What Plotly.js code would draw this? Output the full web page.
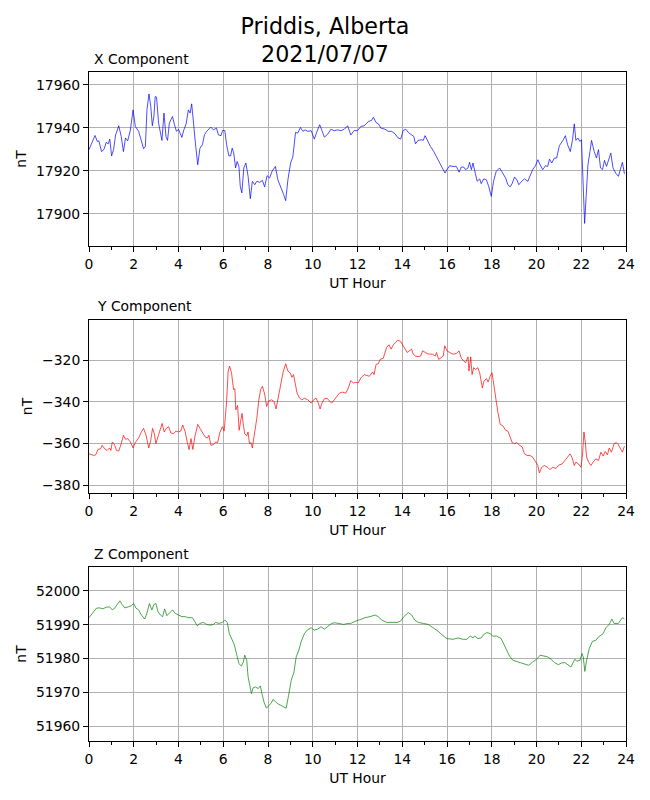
<!DOCTYPE html>
<html>
<head>
<meta charset="utf-8">
<script src="https://cdn.plot.ly/plotly-3.0.1.min.js"></script>
<style>
  body { margin: 0; background: #fff; }
  #plot { width: 650px; height: 800px; }
</style>
</head>
<body>
<div id="plot"></div>
<script>
// magnetometer readings, Priddis 2021/07/07
// X component (nT)
var xHours = [0.00,0.27,0.37,0.44,0.56,0.67,0.77,0.86,0.93,1.01,1.10,1.19,1.33,1.44,1.54,1.63,1.73,1.85,1.97,2.07,
  2.22,2.34,2.44,2.52,2.59,2.68,2.76,2.83,2.90,2.96,3.02,3.11,3.19,3.26,3.35,3.44,3.51,3.59,3.66,3.73,
  3.82,3.91,4.00,4.07,4.15,4.24,4.34,4.44,4.52,4.59,4.67,4.77,4.86,4.96,5.07,5.16,5.26,5.33,5.44,5.56,
  5.70,5.78,5.90,5.97,6.07,6.15,6.25,6.33,6.40,6.47,6.55,6.62,6.70,6.76,6.83,6.92,7.01,7.11,7.21,7.30,
  7.41,7.50,7.63,7.75,7.85,7.96,8.07,8.18,8.33,8.44,8.56,8.70,8.79,8.89,9.01,9.11,9.23,9.33,9.45,9.56,
  9.66,9.78,9.93,10.07,10.19,10.31,10.40,10.52,10.67,10.81,10.96,11.11,11.26,11.41,11.56,11.70,11.85,12.00,12.15,12.30,
  12.49,12.63,12.71,12.83,12.93,13.05,13.23,13.38,13.53,13.67,13.82,13.93,14.04,14.16,14.27,14.42,14.52,14.59,14.71,14.86,
  14.94,15.02,15.13,15.26,15.41,15.53,15.68,15.80,15.91,16.00,16.12,16.27,16.42,16.54,16.64,16.75,16.83,16.94,17.01,17.09,
  17.16,17.27,17.35,17.46,17.53,17.64,17.76,17.86,17.98,18.08,18.20,18.35,18.50,18.62,18.72,18.82,18.91,19.02,19.12,19.21,
  19.34,19.46,19.61,19.71,19.83,19.95,20.06,20.16,20.28,20.40,20.50,20.58,20.68,20.80,20.90,21.02,21.14,21.20,21.29,21.39,
  21.51,21.61,21.69,21.76,21.85,21.94,22.01,22.09,22.15,22.22,22.30,22.39,22.46,22.58,22.68,22.77,22.86,22.95,23.04,23.13,
  23.22,23.32,23.42,23.54,23.66,23.77,23.84,23.93];
var xNT = [17929.9,17936.5,17933.7,17934,17929,17930,17933.3,17932.6,17934.8,17927,17930,17936.8,17941,17936,17929,17935.3,17934,17939,17948.4,17940.7,
  17938.4,17934.5,17930.3,17931.4,17948.4,17955.8,17950,17941,17945.3,17954.6,17954.3,17942.2,17938.4,17934.2,17946.9,17936,17934.2,17942.2,17943.8,17945.3,
  17941.5,17938.4,17939.4,17937.6,17935.6,17939.1,17941.9,17948.4,17946.9,17951.2,17940.7,17931.4,17922.9,17930.6,17932.2,17936.8,17938.4,17939.4,17940.4,17939.1,
  17939.9,17936.8,17936.4,17938.8,17938.8,17932.2,17927,17927,17930.6,17928.3,17921.4,17924.4,17922.1,17912.9,17909.8,17921.4,17923.7,17917.5,17907.1,17915.2,
  17913.6,17915.2,17914.7,17915.6,17912.6,17917.8,17916.7,17919.8,17922.1,17915.9,17912.9,17909,17906.2,17915.9,17923.7,17926.5,17937.9,17937.6,17940.2,17938.4,
  17939.1,17938.4,17938.7,17934.8,17938.4,17941.5,17939.1,17935.7,17937.1,17939.4,17938.7,17939.1,17938.7,17939.4,17941,17936.7,17938.8,17938.7,17940.7,17941,
  17943,17943.5,17945,17942.5,17941.9,17939.9,17939.4,17938.4,17938.4,17937.3,17935.3,17934.8,17938.8,17939.4,17937.9,17936.8,17936,17932.6,17934.2,17934.5,
  17934.2,17936.4,17933.7,17931.4,17929,17926.7,17924,17921.4,17919,17920.6,17922.4,17922.1,17922.1,17919.4,17921.8,17921.8,17920.6,17921.4,17924,17920.6,
  17923.7,17918.7,17915.2,17916.3,17914.1,17916.3,17915.9,17912.9,17908.2,17915.2,17919.8,17921.4,17919,17916.7,17913.6,17912.6,17914.1,17917.2,17915.9,17913.6,
  17915.2,17916.3,17915.2,17917.8,17920.6,17922.4,17925.2,17922.9,17920.6,17922.4,17922.1,17925.5,17923.7,17926,17926,17931.7,17933.3,17934.5,17936.4,17932.2,
  17929,17934.5,17941.9,17934.2,17935.3,17933.7,17934.5,17912.9,17895.6,17908.2,17922.9,17929,17934.2,17929,17926,17929.9,17921.4,17920.6,17924.9,17922.1,
  17924.9,17928.3,17921.4,17919,17917.5,17921.8,17924,17918.7];

// Y component (nT)
var yHours = [0.00,0.22,0.30,0.40,0.52,0.59,0.70,0.81,0.92,0.98,1.04,1.14,1.23,1.33,1.44,1.54,1.63,1.73,1.85,1.97,
  2.07,2.22,2.34,2.44,2.55,2.67,2.76,2.84,2.92,2.99,3.08,3.19,3.27,3.36,3.45,3.56,3.66,3.78,3.88,4.00,
  4.10,4.19,4.30,4.39,4.47,4.56,4.64,4.74,4.86,4.96,5.07,5.19,5.29,5.36,5.45,5.56,5.66,5.75,5.85,5.96,
  6.04,6.15,6.22,6.28,6.37,6.46,6.52,6.56,6.64,6.71,6.77,6.84,6.90,6.96,7.05,7.11,7.17,7.24,7.30,7.41,
  7.50,7.59,7.67,7.75,7.85,7.94,8.03,8.15,8.27,8.36,8.44,8.55,8.67,8.79,8.89,8.99,9.07,9.14,9.21,9.30,
  9.41,9.51,9.63,9.78,9.93,10.04,10.15,10.22,10.33,10.41,10.52,10.64,10.74,10.84,10.96,11.08,11.19,11.33,11.48,11.59,
  11.70,11.82,11.93,12.03,12.15,12.30,
  12.38,12.53,12.68,12.74,12.83,12.93,13.01,13.15,13.30,13.41,13.50,13.60,13.70,13.79,13.93,14.01,14.12,14.22,14.31,14.42,
  14.49,14.59,14.71,14.82,14.91,15.01,15.11,15.23,15.35,15.47,15.53,15.63,15.75,15.83,15.90,16.00,16.12,16.27,16.42,16.54,
  16.64,16.75,16.83,16.94,16.98,17.06,17.12,17.19,17.28,17.38,17.46,17.58,17.65,17.76,17.84,17.93,18.01,18.08,18.17,18.27,
  18.38,18.50,18.62,18.72,18.82,18.91,19.02,19.12,19.24,19.36,19.46,19.58,19.71,19.83,19.95,20.06,20.13,20.23,20.35,20.50,
  20.60,20.72,20.87,20.99,21.14,21.29,21.39,21.50,21.58,21.69,21.76,21.88,21.99,22.06,22.12,22.18,22.24,22.33,22.43,22.53,
  22.65,22.77,22.88,22.98,23.07,23.17,23.25,23.35,23.47,23.57,23.66,23.77,23.84,23.93];
var yNT = [-365,-365.8,-365.5,-362.9,-362.6,-360.9,-362.6,-363.4,-362.2,-363.4,-359.3,-360.6,-363.4,-363.7,-360.1,-356.1,-358,-357.7,-359.3,-362.2,
  -359.6,-357.4,-354.5,-352.8,-356.1,-362.2,-358.5,-352.8,-355.3,-360.1,-356.9,-352.8,-350.4,-354.5,-352.8,-352,-355,-355.3,-354.1,-354.5,
  -354.1,-351.2,-354.5,-359.3,-363,-357.7,-362.9,-356.4,-350.9,-352.8,-354.5,-356.9,-357.4,-356.1,-360.9,-360.6,-359.3,-359.6,-354.8,-352,
  -354.1,-339.9,-325.3,-322.9,-326.1,-334.2,-333.8,-343.9,-341.8,-353.7,-349.9,-345.6,-351.2,-355.3,-356.4,-354.5,-360.1,-359.6,-362.2,-355.3,
  -348,-339.1,-334.2,-332.6,-336.3,-342.3,-339.6,-339.1,-339.9,-343.5,-339.1,-332.6,-326.1,-321.8,-325.3,-326.1,-328.3,-327,-331,-335.9,
  -338.3,-339.1,-338.3,-339.1,-340.7,-339.1,-338.3,-339.9,-343.5,-340.7,-338.6,-338.3,-339.6,-340.7,-339.1,-337.5,-335.9,-335.4,-335.9,-333.4,
  -329.9,-331,-330.7,-331,-328.6,-327,
  -327.3,-327.8,-325.7,-327,-322.1,-321.8,-319.7,-319.2,-314,-312.7,-314.8,-312.7,-311.6,-310.5,-311.1,-312.7,-314.8,-316.4,-315.6,-314.8,
  -317.2,-318.1,-318.4,-318.1,-315.6,-316.4,-316.9,-317.2,-317.2,-318.1,-316.4,-319.7,-318.9,-318.1,-313.2,-315.6,-316.4,-317.2,-316.9,-315.6,
  -319.2,-320.2,-321.3,-318.5,-325.3,-318.5,-327,-323.7,-324.5,-323.7,-326.1,-333.4,-330.2,-328.9,-330.5,-327.8,-326.1,-331,-338.3,-344.8,
  -350.9,-351.6,-353.7,-354.1,-356.9,-359.6,-360.1,-359.6,-360.9,-361.7,-365,-365.8,-365.8,-366.6,-368.7,-370.6,-374.2,-371.5,-370.6,-371.5,
  -372.6,-371.5,-372,-370.4,-369.9,-368.2,-366.6,-365,-366.6,-370.6,-369,-369.9,-371.5,-365,-354.5,-359.3,-366.6,-369,-370.6,-369,
  -367.4,-368.2,-364.2,-366.1,-363.9,-365.5,-362.2,-364.2,-360.1,-359.6,-360.6,-362.9,-364.2,-361.3];

// Z component (nT)
var zHours = [0.00,0.22,0.33,0.47,0.62,0.77,0.92,1.04,1.16,1.26,1.38,1.48,1.60,1.75,1.88,2.00,2.10,2.22,2.34,2.49,
  2.59,2.70,2.81,2.90,2.99,3.08,3.19,3.29,3.38,3.48,3.59,3.73,3.85,4.00,4.15,4.30,4.44,4.62,4.74,4.84,
  4.96,5.11,5.26,5.41,5.56,5.66,5.81,5.96,6.07,6.18,6.27,6.37,6.49,6.59,6.70,6.81,6.90,6.96,7.05,7.11,
  7.19,7.26,7.33,7.44,7.56,7.66,7.73,7.82,7.93,8.03,8.15,8.22,8.33,8.44,8.59,8.71,8.81,8.92,9.04,9.16,
  9.26,9.38,9.48,9.63,9.78,9.93,10.07,10.22,10.37,10.52,10.70,10.84,10.99,11.19,11.38,11.56,11.70,11.85,12.03,12.27,
  12.34,12.56,12.78,12.93,13.08,13.30,13.53,13.78,13.93,14.07,14.27,14.42,14.56,14.71,14.94,15.16,15.38,15.60,15.80,16.00,
  16.27,16.49,16.72,16.89,17.04,17.16,17.24,17.38,17.53,17.64,17.78,17.93,18.05,18.20,18.42,18.62,18.79,18.94,19.17,19.39,
  19.65,19.83,20.01,20.16,20.35,20.50,20.65,20.80,20.98,21.12,21.27,21.39,21.54,21.65,21.72,21.80,21.95,22.03,22.09,22.16,
  22.24,22.36,22.50,22.65,22.77,22.88,22.98,23.10,23.25,23.37,23.47,23.66,23.84,23.93];
var zNT = [51992.1,51993.9,51994.9,51995,51994.7,51995.2,51995.3,51994.4,51995,51996,51997.1,51996,51995,51995.3,51995.6,51996.3,51994.9,51994.4,51992.9,51991.7,
  51993.4,51996.3,51994.4,51996,51996.3,51993.9,51992.9,51992.4,51994.7,51992.7,51993.4,51994.4,51993.4,51992.9,51992.4,51992.4,51992.1,51992.1,51990.7,51989.7,
  51990.4,51990.7,51990.1,51989.9,51990.1,51990.7,51990.4,51990.7,51991.4,51990.7,51987.4,51985.7,51984.2,51981.5,51978.5,51977.8,51979,51981,51979.5,51974.6,
  51971.6,51969.6,51971.3,51971.6,51971.1,51971.9,51969.6,51967.1,51965.3,51966.1,51966.9,51967.9,51967.3,51966.6,51966.1,51965.6,51965.3,51969.1,51973.6,51976,
  51980.5,51982.5,51985,51987.4,51988.6,51989.1,51988.4,51988.7,51989.4,51988.7,51989.7,51990.4,51990.6,51990.4,51990.1,51990.4,51990.4,51990.9,51991.4,51992.1,
  51992.1,51992.4,51992.9,51992.4,51991.4,51990.7,51990.7,51990.7,51991.1,51992.4,51993.6,51992.9,51991.4,51990.7,51990.4,51990.1,51989.1,51988.1,51986.9,51985.9,
  51985.7,51986.1,51985.7,51985.7,51986.7,51986.1,51986.7,51985.9,51986.1,51987.1,51987.7,51987.4,51986.6,51986.7,51985.9,51983,51980.8,51979.5,51979,51978.5,
  51978,51979,51979.8,51981,51980.8,51980.5,51979.8,51978.8,51978.2,51978.7,51978.8,51978.2,51977.5,51979,51979.8,51979.2,51979.5,51981.5,51980.5,51976.2,
  51979.5,51983,51985.1,51985.4,51986.4,51986.9,51987.4,51989.1,51990.1,51991.7,51990.4,51990.4,51992.1,51991.7];

var hourTicks = [0,2,4,6,8,10,12,14,16,18,20,22,24];

var FONT = 'DejaVu Sans, sans-serif';
var TICKSZ = 13.9;

function xAxis(anchor) {
  return {
    anchor: anchor, domain: [0, 1], range: [0, 24],
    tickvals: hourTicks, ticktext: hourTicks.map(String),
    ticks: 'outside', ticklen: 5, tickcolor: '#000', tickwidth: 1,
    showline: true, mirror: true, linecolor: '#000', linewidth: 1,
    showgrid: true, gridcolor: '#b0b0b0', gridwidth: 1,
    zeroline: false, fixedrange: true,
    minor: { dtick: 1, tick0: 0, ticks: 'outside', ticklen: 3, tickcolor: '#000', showgrid: false },
    tickfont: { family: FONT, size: TICKSZ, color: '#000' },
    title: { text: 'UT Hour', font: { family: FONT, size: TICKSZ, color: '#000' }, standoff: 7 }
  };
}

function yAxis(anchor, domain, range, dtick) {
  return {
    anchor: anchor, domain: domain, range: range, dtick: dtick, tickformat: 'd',
    ticks: 'outside', ticklen: 5, tickcolor: '#000', tickwidth: 1,
    showline: true, mirror: true, linecolor: '#000', linewidth: 1,
    showgrid: true, gridcolor: '#b0b0b0', gridwidth: 1,
    zeroline: false, fixedrange: true,
    tickfont: { family: FONT, size: TICKSZ, color: '#000' },
    title: { text: 'nT', font: { family: FONT, size: TICKSZ, color: '#000' }, standoff: 6 }
  };
}

var traces = [
  { x: xHours, y: xNT, xaxis: 'x', yaxis: 'y', type: 'scatter', mode: 'lines',
    line: { color: '#0000ff', width: 0.7 }, hoverinfo: 'skip' },
  { x: yHours, y: yNT, xaxis: 'x2', yaxis: 'y2', type: 'scatter', mode: 'lines',
    line: { color: '#ff0000', width: 0.7 }, hoverinfo: 'skip' },
  { x: zHours, y: zNT, xaxis: 'x3', yaxis: 'y3', type: 'scatter', mode: 'lines',
    line: { color: '#008000', width: 0.7 }, hoverinfo: 'skip' }
];

function compTitle(txt, x, y) {
  return { text: txt, xref: 'paper', yref: 'paper', x: x, y: y,
    xanchor: 'left', yanchor: 'middle', showarrow: false,
    font: { family: FONT, size: TICKSZ, color: '#000' } };
}

var layout = {
  width: 650, height: 800,
  margin: { l: 89, r: 24, t: 72, b: 59 },
  paper_bgcolor: '#fff', plot_bgcolor: '#fff',
  showlegend: false,
  font: { family: FONT, color: '#000' },
  title: { text: 'Priddis, Alberta<br>2021/07/07', x: 0.5, xanchor: 'center',
    y: 0.958, yanchor: 'middle', yref: 'container',
    font: { family: FONT, size: 22.2, color: '#000' } },
  xaxis: xAxis('y'),
  xaxis2: xAxis('y2'),
  xaxis3: xAxis('y3'),
  yaxis: yAxis('x', [0.7399, 1], [17885.1, 17966], 20),
  yaxis2: yAxis('x2', [0.3707, 0.6293], [-383.8, -300.8], 20),
  yaxis3: yAxis('x3', [0, 0.2601], [51955.6, 52007.1], 10),
  annotations: [
    compTitle('X Component', 0.0056, 1.0194),
    compTitle('Y Component', 0.0117, 0.6502),
    compTitle('Z Component', 0.0056, 0.2795)
  ]
};

Plotly.newPlot('plot', traces, layout, { displayModeBar: false, staticPlot: true });
</script>
</body>
</html>
